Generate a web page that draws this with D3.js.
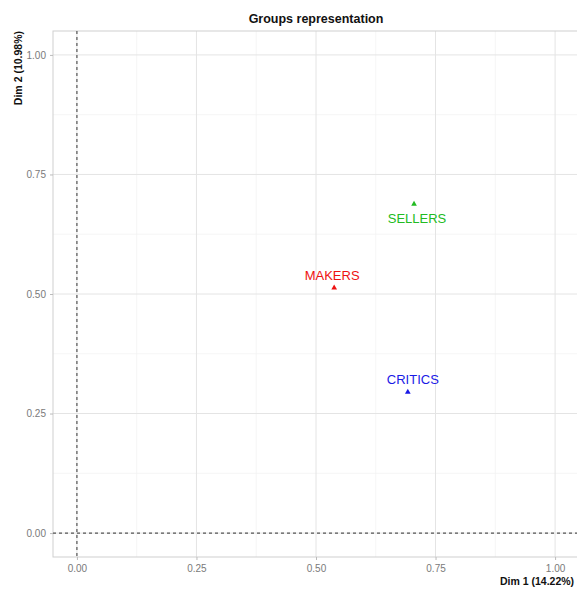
<!DOCTYPE html>
<html><head><meta charset="utf-8">
<script src="https://cdn.jsdelivr.net/npm/d3@7"></script>
<style>body{margin:0;background:#fff}svg{display:block;font-family:"Liberation Sans",Arial,sans-serif}</style>
</head><body>
<svg id="c" width="577" height="590"></svg>
<script>
const groups = ["SELLERS", "MAKERS", "CRITICS"];
const dim1 = [0.705, 0.538, 0.692];
const dim2 = [0.688, 0.513, 0.295];
const colors = ["#22bb22", "#ee1111", "#1a1ae6"];
const labelPos = ["below", "above", "above"];
const ticks = [0, 0.25, 0.5, 0.75, 1];
const tickLabels = ["0.00", "0.25", "0.50", "0.75", "1.00"];

(function () {
const svg = d3.select("#c");
const pL = 53, pR = 579, pT = 31, pB = 557;
const x = d3.scaleLinear().domain([-0.05, 1.05]).range([pL, pR]);
const y = d3.scaleLinear().domain([-0.05, 1.05]).range([pB, pT]);

const g = svg.append("g");
const minor = [0.125, 0.375, 0.625, 0.875];
g.selectAll(".mx").data(minor).enter().append("line")
  .attr("x1", d => x(d)).attr("x2", d => x(d)).attr("y1", pT).attr("y2", pB)
  .attr("stroke", "#f0f0f0").attr("stroke-width", 0.7);
g.selectAll(".my").data(minor).enter().append("line")
  .attr("y1", d => y(d)).attr("y2", d => y(d)).attr("x1", pL).attr("x2", pR)
  .attr("stroke", "#f0f0f0").attr("stroke-width", 0.7);
g.selectAll(".gx").data(ticks).enter().append("line")
  .attr("x1", d => x(d)).attr("x2", d => x(d)).attr("y1", pT).attr("y2", pB)
  .attr("stroke", "#e4e4e4").attr("stroke-width", 1);
g.selectAll(".gy").data(ticks).enter().append("line")
  .attr("y1", d => y(d)).attr("y2", d => y(d)).attr("x1", pL).attr("x2", pR)
  .attr("stroke", "#e4e4e4").attr("stroke-width", 1);

g.append("rect").attr("x", pL).attr("y", pT).attr("width", pR - pL).attr("height", pB - pT)
  .attr("fill", "none").attr("stroke", "#cfcfcf").attr("stroke-width", 1);

g.append("line").attr("x1", x(0)).attr("x2", x(0)).attr("y1", pT).attr("y2", pB)
  .attr("stroke", "#555").attr("stroke-width", 1.2).attr("stroke-dasharray", "3,3");
g.append("line").attr("y1", y(0)).attr("y2", y(0)).attr("x1", pL).attr("x2", pR)
  .attr("stroke", "#555").attr("stroke-width", 1.2).attr("stroke-dasharray", "3,3");

const xAxis = d3.axisBottom(x).tickValues(ticks).tickFormat((d, i) => tickLabels[i]).tickSize(3).tickPadding(5);
const yAxis = d3.axisLeft(y).tickValues(ticks).tickFormat((d, i) => tickLabels[i]).tickSize(3).tickPadding(4);
const xa = svg.append("g").attr("transform", `translate(0,${pB})`).call(xAxis);
const ya = svg.append("g").attr("transform", `translate(${pL},0)`).call(yAxis);
[xa, ya].forEach(a => {
  a.select(".domain").remove();
  a.selectAll(".tick line").attr("stroke", "#bbb");
  a.selectAll(".tick text").attr("fill", "#7a7a7a").attr("font-size", 10)
    .attr("font-family", '"Liberation Sans",Arial,sans-serif');
});

const sym = d3.symbol().type(d3.symbolTriangle).size(14);
const dxs = [3, -2, 5];
groups.forEach((name, i) => {
  svg.append("path").attr("d", sym).attr("transform", `translate(${x(dim1[i])},${y(dim2[i])})`)
    .attr("fill", colors[i]);
  const dy = labelPos[i] === "below" ? 19 : -8;
  svg.append("text").attr("x", x(dim1[i]) + dxs[i]).attr("y", y(dim2[i]) + dy)
    .attr("text-anchor", "middle").attr("fill", colors[i]).attr("font-size", 13).text(name);
});

svg.append("text").attr("x", (pL + pR) / 2).attr("y", 23).attr("text-anchor", "middle")
  .attr("font-weight", "bold").attr("font-size", 12.5).attr("fill", "#111").text("Groups representation");
svg.append("text").attr("x", 500).attr("y", 585).attr("text-anchor", "start")
  .attr("font-weight", "bold").attr("font-size", 10.5).attr("fill", "#111").text("Dim 1 (14.22%)");
svg.append("text").attr("transform", `translate(22,${pT}) rotate(-90)`).attr("text-anchor", "end")
  .attr("font-weight", "bold").attr("font-size", 10.5).attr("fill", "#111").text("Dim 2 (10.98%)");
})();
</script>
</body></html>
